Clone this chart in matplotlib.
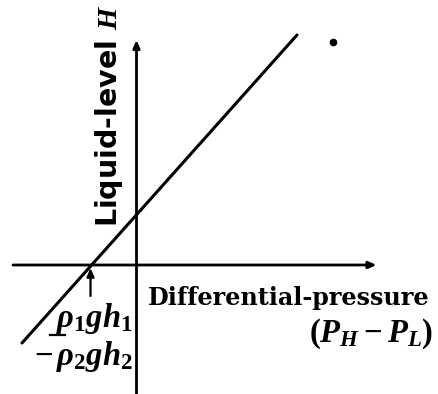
import matplotlib
matplotlib.use("Agg")
import matplotlib.pyplot as plt

plt.rcParams["mathtext.fontset"] = "custom"
plt.rcParams["mathtext.rm"] = "Liberation Serif:bold"
plt.rcParams["mathtext.it"] = "Liberation Serif:italic:bold"
plt.rcParams["mathtext.bf"] = "Liberation Serif:bold"

# Level vs. differential pressure, schematic units (origin where the axes cross)
pressure = [-11.45, 16.05]
level = [-7.8, 23.0]

# zero-level point on the pressure axis (rho1*g*h1 - rho2*g*h2)
zero_point = -4.6
stray_dot = (19.65, 22.3)

fig = plt.figure(figsize=(4.38, 3.94), dpi=100)
ax = fig.add_axes([0, 0, 1, 1])
ax.set_xlim(-13.65, 30.15)
ax.set_ylim(-12.9, 26.5)
ax.axis("off")

lw = 2.0

# coordinate axes with small arrow heads
ax.annotate("", xy=(24.0, 0), xytext=(-12.35, 0),
            arrowprops=dict(arrowstyle="-|>,head_length=0.45,head_width=0.2",
                            lw=lw, color="black", shrinkA=0, shrinkB=0))
ax.annotate("", xy=(0, 22.5), xytext=(0, -12.9),
            arrowprops=dict(arrowstyle="-|>,head_length=0.45,head_width=0.2",
                            lw=lw, color="black", shrinkA=0, shrinkB=0))

# characteristic line
ax.plot(pressure, level, color="black", lw=2.2, solid_capstyle="round")

# arrow pointing at the zero crossing
ax.annotate("", xy=(zero_point, -0.3), xytext=(zero_point, -3.1),
            arrowprops=dict(arrowstyle="-|>,head_length=0.5,head_width=0.22",
                            lw=1.6, color="black", shrinkA=0, shrinkB=0))

ax.plot(*stray_dot, "o", color="black", ms=4.5)

ax.text(-2.75, 14.9, "Liquid-level $H$", rotation=90, ha="center", va="center",
        fontsize=20.5, family="DejaVu Sans", fontweight="bold")
ax.text(1.15, -4.0, "Differential-pressure", ha="left", va="baseline",
        fontsize=17.2, family="DejaVu Serif", fontweight="bold")
ax.text(29.65, -7.7, r"$(P_H - P_L)$", ha="right", va="baseline", fontsize=23.5)
ax.text(-0.35, -6.2, r"$\rho_1 g h_1$", ha="right", va="baseline", fontsize=23.5)
ax.plot([-8.65, -7.15], [-7.0, -7.0], color="black", lw=1.6)
ax.text(-0.35, -10.0, r"$-\,\rho_2 g h_2$", ha="right", va="baseline", fontsize=23.5)

fig.savefig("out.png", dpi=100)
